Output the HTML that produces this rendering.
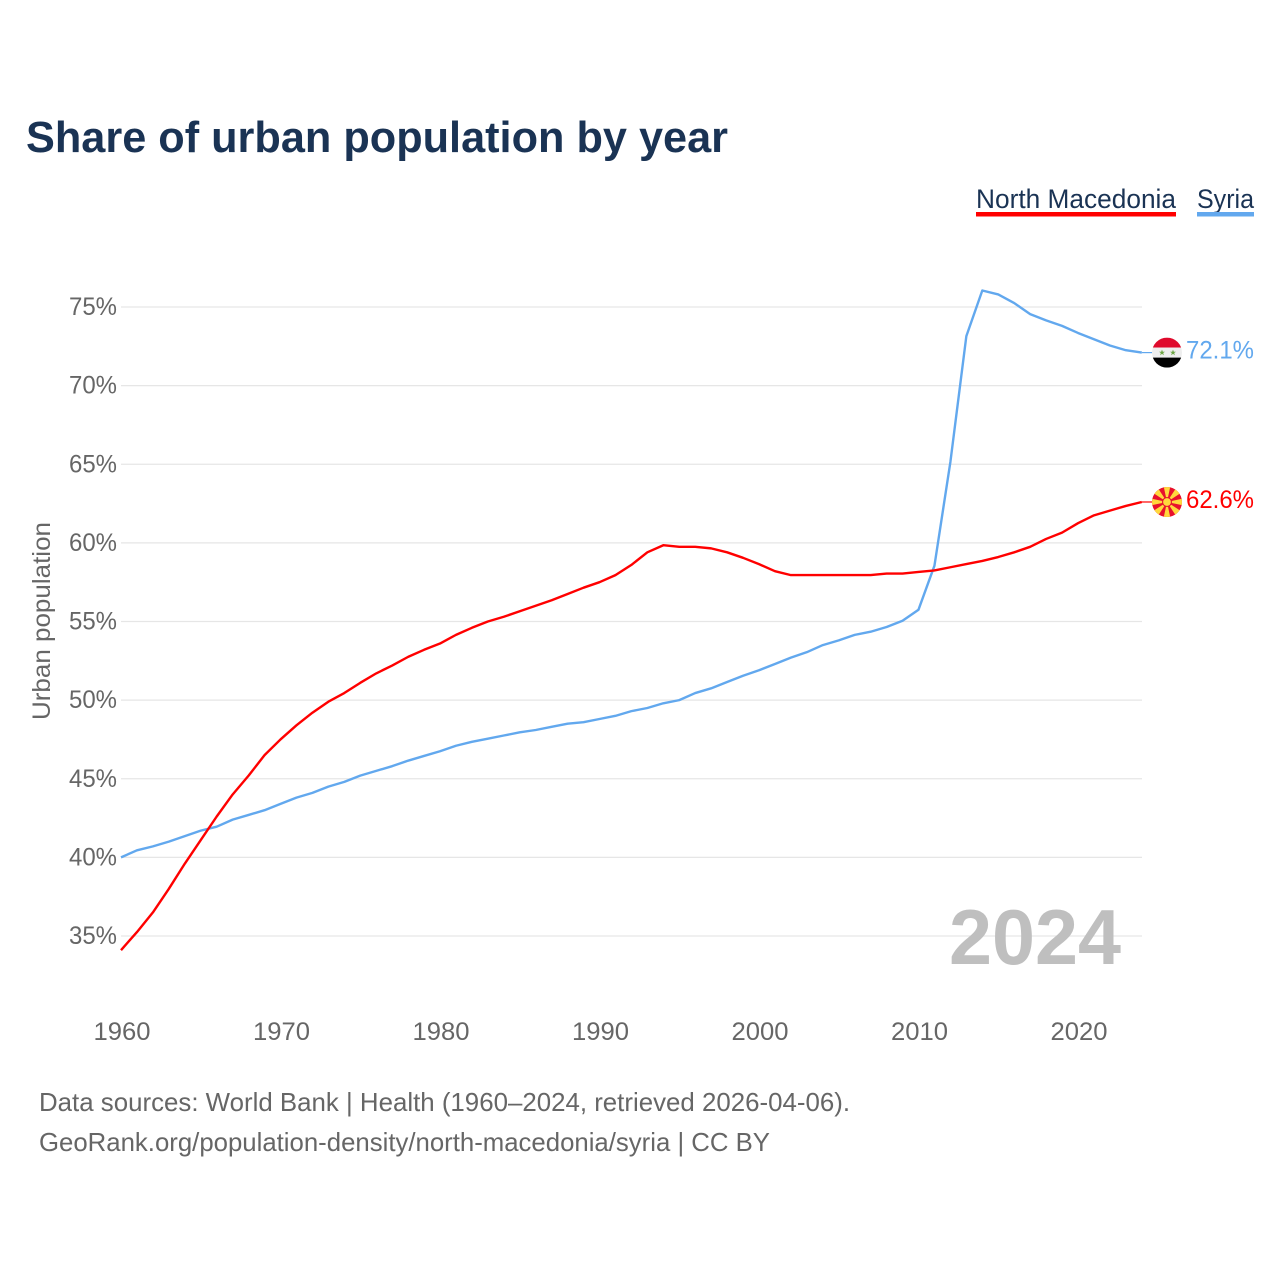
<!DOCTYPE html>
<html lang="en">
<head>
<meta charset="utf-8">
<title>Share of urban population by year</title>
<style>
html,body{margin:0;padding:0;background:#fff;width:1280px;height:1280px;overflow:hidden}
svg{display:block}
text{font-family:"Liberation Sans",sans-serif}
</style>
</head>
<body>
<svg id="chart" width="1280" height="1280" viewBox="0 0 1280 1280" xmlns="http://www.w3.org/2000/svg">
  <defs>
    <clipPath id="clip-syria"><circle cx="0" cy="0" r="15"></circle></clipPath>
    <clipPath id="clip-mk"><circle cx="0" cy="0" r="15"></circle></clipPath>
  </defs>
  <text x="26" y="152" font-size="44" font-weight="700" fill="#1a3354" textLength="702" lengthAdjust="spacingAndGlyphs">Share of urban population by year</text>

  <g>
    <text x="976" y="208" font-size="27" fill="#1a3354" textLength="200" lengthAdjust="spacingAndGlyphs">North Macedonia</text>
    <rect x="976" y="212" width="200" height="4.5" fill="#ff0000"></rect>
  </g>
  <g>
    <text x="1197" y="208" font-size="27" fill="#1a3354" textLength="57" lengthAdjust="spacingAndGlyphs">Syria</text>
    <rect x="1197" y="212" width="57" height="4.5" fill="#62a8ee"></rect>
  </g>

  <g id="grid"></g>
  <g id="yticks"></g>
  <g id="xticks"></g>

  <text transform="translate(50,720) rotate(-90)" x="0" y="0" font-size="25" fill="#666666" textLength="198" lengthAdjust="spacingAndGlyphs">Urban population</text>

  <text x="1121" y="964" text-anchor="end" font-size="78" font-weight="700" fill="#bfbfbf" textLength="172" lengthAdjust="spacingAndGlyphs">2024</text>

  <g id="series"></g>

  <g id="flag-syria">
    <g clip-path="url(#clip-syria)">
      <rect x="-15" y="-15" width="30" height="10" fill="#df0a2c"></rect>
      <rect x="-15" y="-5" width="30" height="10" fill="#eeeeee"></rect>
      <rect x="-15" y="5" width="30" height="10" fill="#000000"></rect>
      <path d="M-5 -3L-4.2 -0.9L-2 -0.9L-3.8 0.4L-3.1 2.6L-5 1.3L-6.9 2.6L-6.2 0.4L-8 -0.9L-5.8 -0.9Z" fill="#6da544"></path>
      <path d="M6 -3L6.8 -0.9L9 -0.9L7.2 0.4L7.9 2.6L6 1.3L4.1 2.6L4.8 0.4L3 -0.9L5.2 -0.9Z" fill="#6da544"></path>
    </g>
  </g>
  <g id="flag-mk">
    <g clip-path="url(#clip-mk)">
      <rect x="-15" y="-15" width="30" height="30" fill="#e8112d"></rect>
      <path d="M-3.4 -16L3.4 -16L0 0Z M-3.4 16L3.4 16L0 0Z M-16 -3.4L-16 3.4L0 0Z M16 -3.4L16 3.4L0 0Z M-13.4 -8.7L-8.7 -13.4L0 0Z M13.4 -8.7L8.7 -13.4L0 0Z M-13.4 8.7L-8.7 13.4L0 0Z M13.4 8.7L8.7 13.4L0 0Z" fill="#ffd83d"></path>
      <circle cx="0" cy="0" r="5" fill="#e8112d"></circle>
      <circle cx="0" cy="0" r="3.9" fill="#ffd83d"></circle>
    </g>
  </g>
  <text id="value-syria" x="1186" font-size="25" fill="#62a8ee" textLength="68" lengthAdjust="spacingAndGlyphs"></text>
  <text id="value-mk" x="1186" font-size="25" fill="#ff0000" textLength="68" lengthAdjust="spacingAndGlyphs"></text>

  <text x="39" y="1111" font-size="26" fill="#666666" textLength="811" lengthAdjust="spacingAndGlyphs">Data sources: World Bank | Health (1960–2024, retrieved 2026-04-06).</text>
  <text x="39" y="1151" font-size="26" fill="#666666" textLength="731" lengthAdjust="spacingAndGlyphs">GeoRank.org/population-density/north-macedonia/syria | CC BY</text>
</svg>
<script>
const startYear = 1960;
const yTickValues = [35, 40, 45, 50, 55, 60, 65, 70, 75];
const xTickValues = [1960, 1970, 1980, 1990, 2000, 2010, 2020];
const northMacedoniaValues = [34.1, 35.25, 36.5, 38.0, 39.6, 41.1, 42.6, 44.0, 45.2, 46.5, 47.5, 48.4, 49.2, 49.9, 50.45, 51.1, 51.7, 52.2, 52.75, 53.2, 53.6, 54.15, 54.6, 55.0, 55.3, 55.65, 56.0, 56.35, 56.75, 57.15, 57.5, 57.95, 58.6, 59.4, 59.85, 59.75, 59.75, 59.65, 59.4, 59.05, 58.65, 58.2, 57.95, 57.95, 57.95, 57.95, 57.95, 57.95, 58.05, 58.05, 58.15, 58.25, 58.45, 58.65, 58.85, 59.1, 59.4, 59.75, 60.25, 60.65, 61.25, 61.75, 62.05, 62.35, 62.6];
const syriaValues = [40.0, 40.45, 40.7, 41.0, 41.35, 41.7, 41.95, 42.4, 42.7, 43.0, 43.4, 43.8, 44.1, 44.5, 44.8, 45.2, 45.5, 45.8, 46.15, 46.45, 46.75, 47.1, 47.35, 47.55, 47.75, 47.95, 48.1, 48.3, 48.5, 48.6, 48.8, 49.0, 49.3, 49.5, 49.8, 50.0, 50.45, 50.75, 51.15, 51.55, 51.9, 52.3, 52.7, 53.05, 53.5, 53.8, 54.15, 54.35, 54.65, 55.05, 55.75, 58.55, 65.15, 73.15, 76.05, 75.8, 75.25, 74.55, 74.15, 73.8, 73.35, 72.95, 72.55, 72.25, 72.1];

const NS = 'http://www.w3.org/2000/svg';
function xScale(year) { return 121 + (year - startYear) * 15.95; }
function yScale(pct) { return 307 + (75 - pct) * 15.725; }
function mk(tag, attrs, parent) {
  const el = document.createElementNS(NS, tag);
  for (const k in attrs) el.setAttribute(k, attrs[k]);
  parent.appendChild(el);
  return el;
}

const gridGroup = document.getElementById('grid');
const yTickGroup = document.getElementById('yticks');
const xTickGroup = document.getElementById('xticks');
const seriesGroup = document.getElementById('series');

yTickValues.forEach(function (v) {
  const line = mk('line', { x1: 121, x2: 1142, y1: yScale(v), y2: yScale(v), stroke: '#e6e6e6', 'stroke-width': 1.3 }, gridGroup);
  
  
  const label = mk('text', { x: 117, y: yScale(v) + 8, 'text-anchor': 'end', 'font-size': 25, fill: '#666666', textLength: 48, lengthAdjust: 'spacingAndGlyphs' }, yTickGroup);
  
  
  label.textContent = v + '%';
});

xTickValues.forEach(function (v) {
  const label = mk('text', { x: xScale(v) + 1, y: 1040, 'text-anchor': 'middle', 'font-size': 25, fill: '#666666', textLength: 57, lengthAdjust: 'spacingAndGlyphs' }, xTickGroup);
  
  
  label.textContent = v;
});

function drawLine(values, color) {
  const pts = values.map(function (v, i) { return xScale(startYear + i).toFixed(2) + ',' + yScale(v).toFixed(2); });
  return mk('polyline', { points: pts.join(' '), fill: 'none', stroke: color, 'stroke-width': 2.4, 'stroke-linejoin': 'round' }, seriesGroup);
}
function drawStub(values, color) {
  const lastY = yScale(values[values.length - 1]);
  return mk('line', { x1: xScale(startYear + values.length - 1), x2: 1153, y1: lastY, y2: lastY, stroke: color, 'stroke-width': 1.2 }, seriesGroup);
}

const syriaLine = drawLine(syriaValues, '#62a8ee');


const syriaStub = drawStub(syriaValues, '#62a8ee');


const mkLine = drawLine(northMacedoniaValues, '#ff0000');


const mkStub = drawStub(northMacedoniaValues, '#ff0000');



const syriaLast = syriaValues[syriaValues.length - 1];
const mkLast = northMacedoniaValues[northMacedoniaValues.length - 1];
document.getElementById('flag-syria').setAttribute('transform', 'translate(1167,' + yScale(syriaLast) + ')');
document.getElementById('flag-mk').setAttribute('transform', 'translate(1167,' + yScale(mkLast) + ')');
const syriaValueLabel = document.getElementById('value-syria');
syriaValueLabel.setAttribute('y', yScale(syriaLast) + 6);
syriaValueLabel.textContent = syriaLast.toFixed(1) + '%';
const mkValueLabel = document.getElementById('value-mk');
mkValueLabel.setAttribute('y', yScale(mkLast) + 6);
mkValueLabel.textContent = mkLast.toFixed(1) + '%';
</script>
</body>
</html>
